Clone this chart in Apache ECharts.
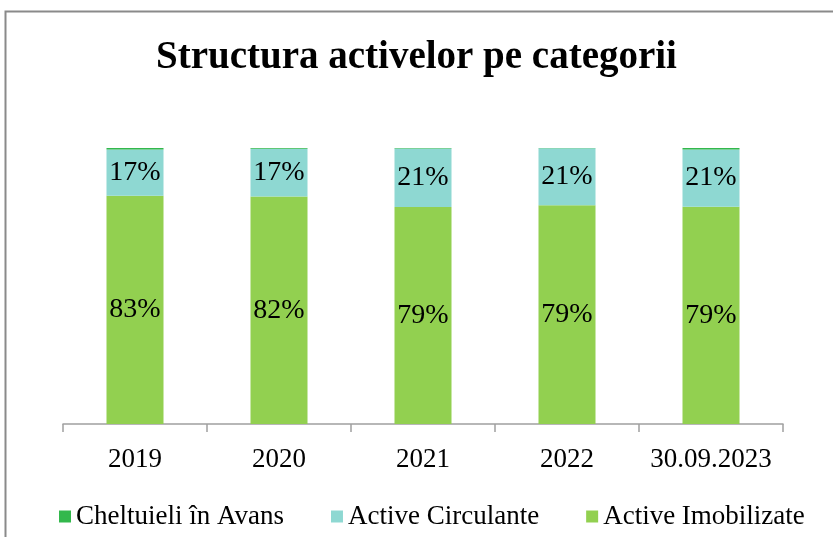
<!DOCTYPE html>
<html><head><meta charset="utf-8">
<script src="https://cdn.jsdelivr.net/npm/echarts@6/dist/echarts.min.js"></script>
<style>html,body{margin:0;padding:0;background:#fff}#c{width:833px;height:537px}</style>
</head><body><div id="c"></div>
<script>
const categories = ['2019','2020','2021','2022','30.09.2023'];
const activeImobilizate = [82.7, 82.4, 78.6, 79.3, 78.7];
const activeCirculante = [16.8, 17.3, 21.2, 20.6, 20.8];
const cheltuieliAvans = [0.5, 0.3, 0.2, 0.1, 0.5];
const seriesNames = ['Cheltuieli în Avans','Active Circulante','Active Imobilizate'];

const FONT = 'Liberation Serif';
const chart = echarts.init(document.getElementById('c'));
const lbl = {show:true, position:'inside', color:'#000', fontFamily:FONT, fontSize:28,
  formatter: p => Math.round(p.value) + '%'};
chart.setOption({
  animation:false,
  title:{text:'Structura activelor pe categorii', left:'center', top:33,
    textStyle:{fontFamily:FONT, fontWeight:'bold', fontSize:39, color:'#000'}},
  graphic:[{type:'rect', shape:{x:5.5,y:11.5,width:900,height:600}, style:{fill:null, stroke:'#8a8a8a', lineWidth:2}}],
  legend:{bottom:2, left:54, itemWidth:12, itemHeight:12, itemGap:47, icon:'rect',
    data:seriesNames,
    textStyle:{fontFamily:FONT, fontSize:27, color:'#000'}},
  grid:{left:63, right:50, top:148, bottom:113},
  xAxis:{type:'category', data:categories,
    axisLine:{lineStyle:{color:'#a0a0a0', width:1.5}},
    axisTick:{show:true, interval:0, length:8, lineStyle:{color:'#a0a0a0', width:1.5}},
    axisLabel:{interval:0, fontFamily:FONT, fontSize:27, color:'#000', margin:22}},
  yAxis:{type:'value', min:0, max:100, show:false, splitLine:{show:false}},
  series:[
    {name:'Active Imobilizate', type:'bar', stack:'a', data:activeImobilizate, barWidth:57,
      itemStyle:{color:'#92D050'}, label:lbl},
    {name:'Active Circulante', type:'bar', stack:'a', data:activeCirculante,
      itemStyle:{color:'#8ED8D2'}, label:lbl},
    {name:'Cheltuieli în Avans', type:'bar', stack:'a', data:cheltuieliAvans,
      itemStyle:{color:'#33B84C'}, label:{show:false}}
  ]
});
</script></body></html>
